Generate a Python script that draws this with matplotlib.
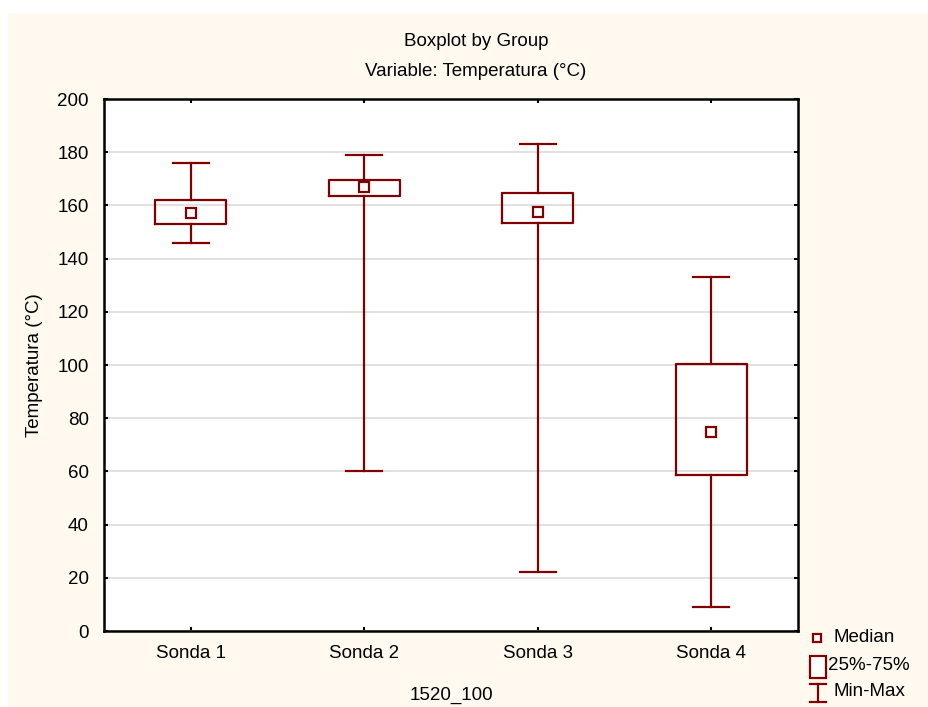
import matplotlib
matplotlib.use("Agg")
import matplotlib.pyplot as plt
import matplotlib.patches as patches
from matplotlib.lines import Line2D

plt.rcParams['font.family'] = ['Liberation Sans', 'DejaVu Sans']

# data
groups = ['Sonda 1', 'Sonda 2', 'Sonda 3', 'Sonda 4']
minimum = [146, 60, 22, 9]
q1 = [153, 163.5, 153.5, 58.5]
median = [157, 167, 157.5, 75]
q3 = [162, 169.5, 164.5, 100.5]
maximum = [176, 179, 183, 133]
yticks = [0, 20, 40, 60, 80, 100, 120, 140, 160, 180, 200]

red = '#800000'
cream = '#fff9ef'
fs = 13.5

W, H = 929, 707
fig = plt.figure(figsize=(W / 100, H / 100), dpi=100)
fig.patch.set_facecolor('white')

def fx(px):
    return px / W

def fy(py):
    return 1 - py / H

# cream panel behind everything
fig.add_artist(patches.Rectangle((fx(8), 0), 1, fy(13), transform=fig.transFigure,
                                 facecolor=cream, edgecolor='none', zorder=-10))

ax = fig.add_axes([fx(104), fy(631), fx(798) - fx(104), fy(99) - fy(631)])
ax.set_facecolor('white')

stats = []
for i in range(len(groups)):
    stats.append({'whislo': minimum[i], 'q1': q1[i], 'med': median[i],
                  'q3': q3[i], 'whishi': maximum[i], 'fliers': []})

pos = list(range(1, len(groups) + 1))
ax.bxp(stats, positions=pos, widths=0.41, capwidths=0.21, showfliers=False,
       boxprops=dict(color=red, linewidth=1.6),
       whiskerprops=dict(color=red, linewidth=1.6),
       capprops=dict(color=red, linewidth=1.6),
       medianprops=dict(linewidth=0), zorder=3)
ax.plot(pos, median, linestyle='none', marker='s', markersize=6.5,
        markerfacecolor='white', markeredgecolor=red, markeredgewidth=1.6, zorder=4)

ax.set_xlim(0.5, 4.5)
ax.set_ylim(0, 200)
ax.set_yticks(yticks)
ax.set_xticks(pos)
ax.set_xticklabels(groups)
ax.grid(axis='y', color='#dcdcdc', linewidth=1.2, zorder=0)
ax.set_axisbelow(True)
ax.tick_params(direction='in', length=3, width=1.5, top=True, right=True,
               labelsize=fs, colors='black')
ax.tick_params(axis='y', pad=11)
ax.tick_params(axis='x', pad=10)
for s in ax.spines.values():
    s.set_linewidth(1.8)
    s.set_color('black')

ax.set_ylabel('Temperatura (°C)', fontsize=fs, labelpad=10)
ax.set_xlabel('1520_100', fontsize=fs, labelpad=18)

fig.text(fx(476), fy(41), 'Boxplot by Group', ha='center', va='center', fontsize=fs)
fig.text(fx(476), fy(72), 'Variable: Temperatura (°C)', ha='center', va='center', fontsize=fs)

# legend drawn in pixel coordinates
fig.add_artist(Line2D([fx(817)], [fy(638)], marker='s', markersize=6,
                      markerfacecolor='white', markeredgecolor=red, markeredgewidth=1.6,
                      transform=fig.transFigure))
fig.text(fx(834), fy(638), 'Median', va='center', fontsize=fs)
fig.add_artist(patches.Rectangle((fx(810), fy(678)), fx(826) - fx(810), fy(656) - fy(678),
                                 facecolor='white', edgecolor=red, linewidth=1.6,
                                 transform=fig.transFigure))
fig.text(fx(828), fy(665), '25%-75%', va='center', fontsize=fs)
fig.add_artist(Line2D([fx(818), fx(818)], [fy(684), fy(702)], color=red, linewidth=1.6,
                      transform=fig.transFigure))
fig.add_artist(Line2D([fx(810), fx(826)], [fy(684), fy(684)], color=red, linewidth=1.6,
                      transform=fig.transFigure))
fig.add_artist(Line2D([fx(810), fx(826)], [fy(702), fy(702)], color=red, linewidth=1.6,
                      transform=fig.transFigure))
fig.text(fx(834), fy(692), 'Min-Max', va='center', fontsize=fs)

fig.savefig('out.png', dpi=100, facecolor=fig.get_facecolor())
